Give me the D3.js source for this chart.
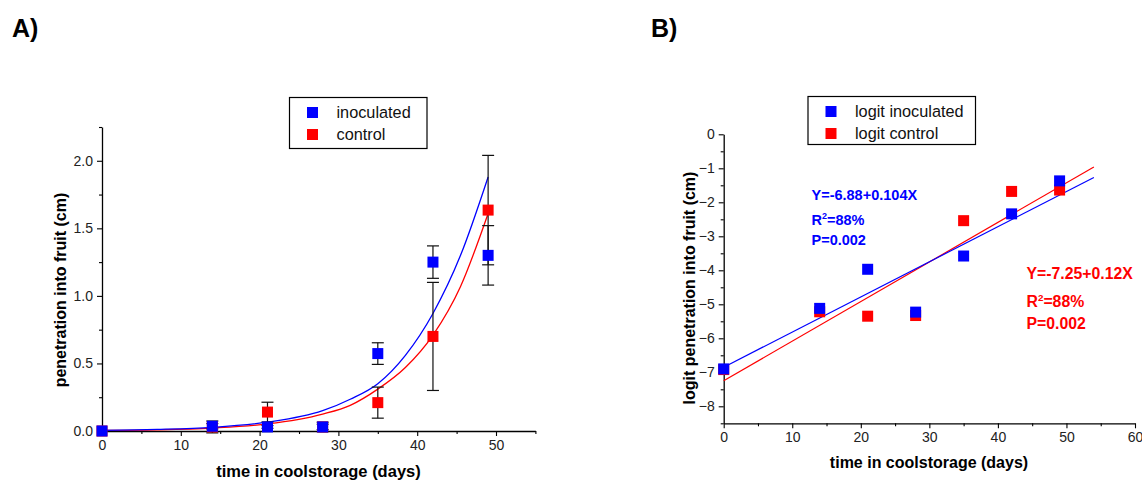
<!DOCTYPE html>
<html>
<head>
<meta charset="utf-8">
<script src="https://cdn.jsdelivr.net/npm/d3@7"></script>
<style>
  body { margin: 0; background: #fff; }
  text { font-family: Arial, "Liberation Sans", sans-serif; }
</style>
</head>
<body>
<svg id="fig" width="1142" height="481"></svg>
<script>
// sampling days
var days = [0, 14, 21, 28, 35, 42, 49];

// panel A: penetration (cm) with error half-widths
var inoculated = [0, 0.035, 0.03, 0.03, 0.573, 1.25, 1.30];
var inoculatedErr = [0, 0.02, 0.01, 0.02, 0.08, 0.12, 0.22];
var control = [0, 0.03, 0.14, 0.03, 0.21, 0.70, 1.635];
var controlErr = [0, 0.044, 0.073, 0.035, 0.115, 0.40, 0.405];

// panel A: fitted curves
var fitDays = [0, 7, 14, 21, 28, 31.5, 35, 38.5, 42, 45.5, 49];
var fitInoculated = [0.005, 0.012, 0.027, 0.065, 0.15, 0.235, 0.35, 0.56, 0.87, 1.30, 1.88];
var fitControl = [0.004, 0.009, 0.022, 0.052, 0.125, 0.19, 0.31, 0.47, 0.71, 1.07, 1.61];

// panel B: logit values and regression lines
var logitInoculated = [-6.9, -5.12, -3.97, -5.23, -3.58, -2.34, -1.37];
var logitControl = [-6.92, -5.22, -5.35, -5.33, -2.54, -1.68, -1.64];
var lineDays = [0, 54];
var lineInoculated = [-6.85, -1.27];
var lineControl = [-7.25, -0.96];

var xTicksA = [0, 10, 20, 30, 40, 50];
var yTicksA = [0, 0.5, 1.0, 1.5, 2.0];
var xTicksB = [0, 10, 20, 30, 40, 50, 60];
var yTicksB = [0, -1, -2, -3, -4, -5, -6, -7, -8];

var eqInoculated = ["Y=-6.88+0.104X", "88%", "P=0.002"];
var eqControl = ["Y=-7.25+0.12X", "88%", "P=0.002"];

var BLUE = '#0000ff', RED = '#ff0000';
var svg = d3.select('#fig');

function range(a, b, s) { return d3.range(a, b + s / 2, s); }

function drawAxes(g, x, y, xt, yt, xMinor, yMinor, xFmt, yFmt) {
    var y0 = y.range()[0], x0 = x.range()[0];
    g.append('g').attr('transform', 'translate(0,' + y0 + ')')
        .call(d3.axisBottom(x).tickValues(xt).tickSize(5).tickSizeOuter(0).tickPadding(4).tickFormat(xFmt));
    g.append('g').attr('transform', 'translate(0,' + y0 + ')')
        .call(d3.axisBottom(x).tickValues(xMinor).tickSize(3).tickFormat(''))
        .select('.domain').remove();
    g.append('g').attr('transform', 'translate(' + x0 + ',0)')
        .call(d3.axisLeft(y).tickValues(yt).tickSize(5).tickSizeOuter(0).tickPadding(4).tickFormat(yFmt));
    g.append('g').attr('transform', 'translate(' + x0 + ',0)')
        .call(d3.axisLeft(y).tickValues(yMinor).tickSize(3).tickFormat(''))
        .select('.domain').remove();
    g.selectAll('.domain').attr('stroke', '#000').attr('stroke-width', 1.3);
    g.selectAll('.tick line').attr('stroke', '#000').attr('stroke-width', 1.1);
    g.selectAll('.tick text').attr('font-size', 14).attr('fill', '#222')
        .attr('font-family', 'Arial, "Liberation Sans", sans-serif');
}

function squares(g, xs, ys, x, y, color) {
    g.selectAll(null).data(xs).enter().append('rect')
        .attr('x', function(d) { return x(d) - 5.5; })
        .attr('y', function(d, i) { return y(ys[i]) - 5.5; })
        .attr('width', 11).attr('height', 11)
        .attr('fill', color);
}

function legend(g, x0, y0, w, h, items) {
    g.append('rect').attr('x', x0).attr('y', y0).attr('width', w).attr('height', h)
        .attr('fill', '#fff').attr('stroke', '#000').attr('stroke-width', 1.2);
    items.forEach(function(it, i) {
        var cy = y0 + 15 + i * 22;
        g.append('rect').attr('x', x0 + 17.5).attr('y', cy - 5.5)
            .attr('width', 11).attr('height', 11).attr('fill', it.color);
        g.append('text').attr('x', x0 + 47).attr('y', cy + 5.5)
            .attr('font-size', 16.3).attr('fill', '#111').text(it.label);
    });
}

// ---------- panel A ----------
var gA = svg.append('g');
var xA = d3.scaleLinear().domain([0, 55]).range([102, 535.4]);
var yA = d3.scaleLinear().domain([0, 2.25]).range([431, 127]);

gA.append('text').attr('x', 12).attr('y', 37).attr('font-size', 25)
    .attr('font-weight', 'bold').text('A)');

drawAxes(gA, xA, yA, xTicksA, yTicksA, range(5, 55, 10), range(0.25, 2.25, 0.5),
    d3.format('d'), d3.format('.1f'));

var curve = d3.line().curve(d3.curveMonotoneX)
    .x(function(d) { return xA(d[0]); }).y(function(d) { return yA(d[1]); });
gA.append('path').datum(d3.zip(fitDays, fitControl)).attr('d', curve)
    .attr('fill', 'none').attr('stroke', RED).attr('stroke-width', 1.3);
gA.append('path').datum(d3.zip(fitDays, fitInoculated)).attr('d', curve)
    .attr('fill', 'none').attr('stroke', BLUE).attr('stroke-width', 1.3);

function errorBars(g, vals, errs) {
    days.forEach(function(d, i) {
        if (!errs[i]) return;
        var cx = xA(d), lo = yA(vals[i] - errs[i]), hi = yA(vals[i] + errs[i]);
        g.append('line').attr('x1', cx).attr('x2', cx).attr('y1', lo).attr('y2', hi);
        g.append('line').attr('x1', cx - 6).attr('x2', cx + 6).attr('y1', lo).attr('y2', lo);
        g.append('line').attr('x1', cx - 6).attr('x2', cx + 6).attr('y1', hi).attr('y2', hi);
    });
}
var eb = gA.append('g').attr('stroke', '#111').attr('stroke-width', 1.2);
errorBars(eb, control, controlErr);
errorBars(eb, inoculated, inoculatedErr);

squares(gA.append('g'), days, control, xA, yA, RED);
squares(gA.append('g'), days, inoculated, xA, yA, BLUE);

legend(gA, 289.5, 97.5, 137.5, 51, [
    { label: 'inoculated', color: BLUE },
    { label: 'control', color: RED }
]);

gA.append('text').attr('x', 318.5).attr('y', 477)
    .attr('text-anchor', 'middle').attr('font-size', 16.5).attr('font-weight', 'bold')
    .text('time in coolstorage (days)');
gA.append('text').attr('transform', 'translate(66,' + 290 + ') rotate(-90)')
    .attr('text-anchor', 'middle').attr('font-size', 16).attr('font-weight', 'bold')
    .text('penetration into fruit (cm)');

// ---------- panel B ----------
var gB = svg.append('g');
var xB = d3.scaleLinear().domain([0, 60]).range([723.7, 1135]);
var yB = d3.scaleLinear().domain([-8.5, 0]).range([423.3, 134.3]);

gB.append('text').attr('x', 651).attr('y', 37).attr('font-size', 25)
    .attr('font-weight', 'bold').text('B)');

drawAxes(gB, xB, yB, xTicksB, yTicksB, range(5, 55, 10), range(-8.5, -0.5, 1),
    d3.format('d'), d3.format('d'));

var straight = d3.line()
    .x(function(d) { return xB(d[0]); }).y(function(d) { return yB(d[1]); });
gB.append('path').datum(d3.zip(lineDays, lineControl)).attr('d', straight)
    .attr('fill', 'none').attr('stroke', RED).attr('stroke-width', 1.2);
gB.append('path').datum(d3.zip(lineDays, lineInoculated)).attr('d', straight)
    .attr('fill', 'none').attr('stroke', BLUE).attr('stroke-width', 1.2);

squares(gB.append('g'), days, logitControl, xB, yB, RED);
squares(gB.append('g'), days, logitInoculated, xB, yB, BLUE);

legend(gB, 808, 96.5, 167.5, 48, [
    { label: 'logit inoculated', color: BLUE },
    { label: 'logit control', color: RED }
]);

function equation(g, x0, ys, lines, color, size) {
    var t = g.append('g').attr('fill', color).attr('font-size', size).attr('font-weight', 'bold');
    t.append('text').attr('x', x0).attr('y', ys[0]).text(lines[0]);
    var r = t.append('text').attr('x', x0).attr('y', ys[1]);
    r.append('tspan').text('R');
    r.append('tspan').attr('font-size', size * 0.62).attr('dy', -6).text('2');
    r.append('tspan').attr('dy', 6).text('=' + lines[1]);
    t.append('text').attr('x', x0).attr('y', ys[2]).text(lines[2]);
}
equation(gB, 811.5, [200, 225, 245], eqInoculated, BLUE, 14.5);
equation(gB, 1026.5, [279, 306.5, 328.5], eqControl, RED, 15.8);

gB.append('text').attr('x', 929).attr('y', 467.5)
    .attr('text-anchor', 'middle').attr('font-size', 16).attr('font-weight', 'bold')
    .text('time in coolstorage (days)');
gB.append('text').attr('transform', 'translate(695,' + 288 + ') rotate(-90)')
    .attr('text-anchor', 'middle').attr('font-size', 16).attr('font-weight', 'bold')
    .text('logit penetration into fruit (cm)');
</script>
</body>
</html>
